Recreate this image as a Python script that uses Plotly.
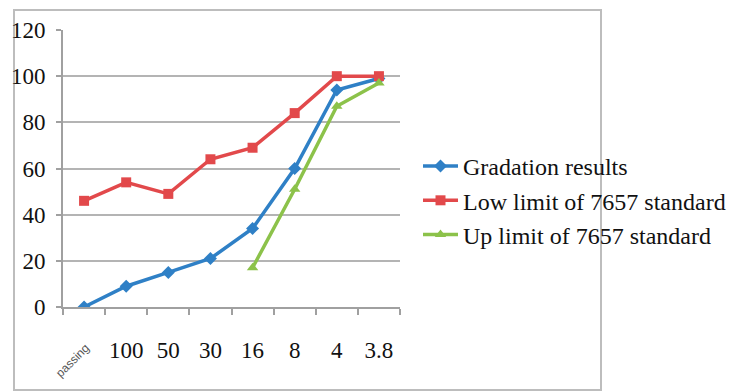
import plotly.graph_objects as go

# Sieve sizes along the x axis
sieves = ["passing", "100", "50", "30", "16", "8", "4", "3.8"]

# Percent passing for each series
gradation = [0, 9, 15, 21, 34, 60, 94, 99]
low_limit = [46, 54, 49, 64, 69, 84, 100, 100]
up_limit = [None, None, None, None, 17, 51, 87, 97]

y_ticks = [0, 20, 40, 60, 80, 100, 120]

BLUE = "#2f80c6"
RED = "#e2494b"
GREEN = "#8cc24a"
SERIF = "Liberation Serif"

fig = go.Figure()
fig.add_trace(go.Scatter(
    x=sieves, y=gradation, name="Gradation results", mode="lines+markers",
    line=dict(color=BLUE, width=3.5),
    marker=dict(symbol="diamond", size=10, color=BLUE)))
fig.add_trace(go.Scatter(
    x=sieves, y=low_limit, name="Low limit of 7657 standard", mode="lines+markers",
    line=dict(color=RED, width=3.5),
    marker=dict(symbol="square", size=10, color=RED)))
fig.add_trace(go.Scatter(
    x=sieves, y=up_limit, name="Up limit of 7657 standard", mode="lines+markers",
    line=dict(color=GREEN, width=3.5), connectgaps=False,
    marker=dict(symbol="triangle-up", size=10, color=GREEN)))

fig.update_layout(
    width=747, height=392,
    margin=dict(l=63, r=347, t=30, b=85),
    paper_bgcolor="white", plot_bgcolor="white",
    font=dict(family=SERIF, size=23, color="#111"),
    showlegend=True,
    legend=dict(
        xref="container", yref="container", x=418 / 747, y=1 - 144 / 392,
        xanchor="left", yanchor="top", bgcolor="rgba(0,0,0,0)",
        font=dict(family=SERIF, size=24, color="#111"),
        itemwidth=35),
    xaxis=dict(
        type="category", categoryorder="array", categoryarray=sieves,
        tickmode="array", tickvals=sieves,
        ticktext=[""] + sieves[1:], tickangle=0,
        showline=True, linecolor="#a0a0a0", linewidth=2,
        ticks="outside", tickson="boundaries", ticklen=6, tickcolor="#a0a0a0",
        tickwidth=2, showgrid=False, ticklabelstandoff=21,
        tickfont=dict(family=SERIF, size=23, color="#111"),
        range=[-0.5, 7.5], fixedrange=True),
    yaxis=dict(
        range=[0, 120], tickvals=y_ticks,
        showline=True, linecolor="#a0a0a0", linewidth=2,
        showgrid=True, gridcolor="#b4b4b4", gridwidth=2,
        zeroline=False, ticks="outside", ticklen=5, tickcolor="#a0a0a0",
        tickwidth=2, ticklabelstandoff=6,
        tickfont=dict(family=SERIF, size=23, color="#111")),
)

# Rotated label for the first category
fig.add_annotation(
    x="passing", y=0, xref="x", yref="y", text="passing", showarrow=False,
    textangle=-45, yshift=-54, xshift=-12,
    font=dict(family="Liberation Sans", size=12, color="#555"))

# Outer chart frame
fig.add_shape(
    type="rect", xref="paper", yref="paper",
    x0=(14 - 63) / 337, x1=(601 - 63) / 337,
    y0=(307 - 390) / 277, y1=(307 - 10) / 277,
    line=dict(color="#bdbdbd", width=2), layer="below")

fig.write_html("out.html")
